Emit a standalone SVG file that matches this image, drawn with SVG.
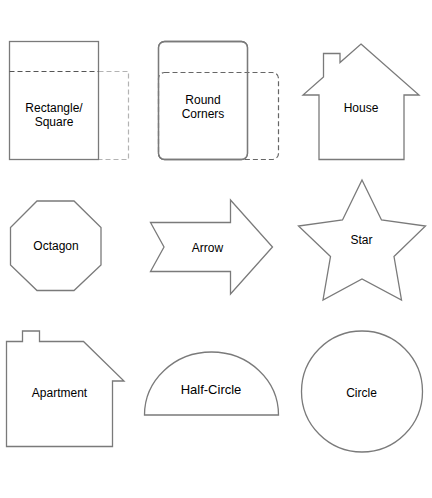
<svg xmlns="http://www.w3.org/2000/svg" width="432" height="498" viewBox="0 0 432 498">
<style>
.s{fill:#fff;stroke:#7a7a7a;stroke-width:1.3;stroke-linejoin:miter}
.o{fill:none;stroke:#7a7a7a;stroke-width:1.3}
.d{fill:none;stroke:#555;stroke-width:1.2;stroke-dasharray:5,3}
.dl{fill:none;stroke:#b3b3b3;stroke-width:1.2;stroke-dasharray:5,3}
text{font-family:"Liberation Sans",Arial,sans-serif;font-size:12px;fill:#000;text-anchor:middle}
</style>
<rect width="432" height="498" fill="#fff"/>
<g id="rectangle">
<path class="dl" d="M98.5 71.5H128.5V159.5H98.5"/>
<rect class="s" x="9.5" y="41.5" width="89" height="118"/>
<path class="d" d="M9.5 71.5H98.5"/>
<text x="54" y="112">Rectangle/</text>
<text x="54" y="125.5">Square</text>
</g>
<g id="round">
<rect class="s" x="158.5" y="41.5" width="89" height="118" rx="6"/>
<rect class="d" x="158.5" y="72.5" width="120" height="87" rx="6" style="stroke:#666"/>
<rect class="o" x="158.5" y="41.5" width="89" height="118" rx="6"/>
<text x="203" y="104">Round</text>
<text x="203" y="117.5">Corners</text>
</g>
<g id="house">
<path class="s" d="M361 44L419 95H404V159.5H319V95H303L323.5 77V53.5H340V62.5Z"/>
<text x="361" y="111.5">House</text>
</g>
<g id="octagon">
<path class="s" d="M37 201H74L101 227.5V265L74 290.5H37L10.5 265V227.5Z"/>
<text x="56" y="250">Octagon</text>
</g>
<g id="arrow">
<path class="s" d="M150.5 222.5H230.5V200L272.5 247L230.5 294V271.5H150.5L164 247Z"/>
<text x="207.5" y="252">Arrow</text>
</g>
<g id="star">
<path class="s" d="M362 180L381.5 220L425.5 226L394 256.5L401.5 300L362 279L323 300L330.5 256.5L298.5 226L342.5 220Z"/>
<text x="361.5" y="244">Star</text>
</g>
<g id="apartment">
<path class="s" d="M6.5 341.5H22.5V331H39.5V341.5H83.5L124 381H112.5V446.5H6.5Z"/>
<text x="59.5" y="396.5">Apartment</text>
</g>
<g id="halfcircle">
<path class="s" d="M144.5 415A67 63 0 0 1 278.5 415Z"/>
<text x="211" y="394" style="font-size:13px">Half-Circle</text>
</g>
<g id="circle">
<circle class="s" cx="362" cy="391.5" r="60.5"/>
<text x="361.5" y="396.5">Circle</text>
</g>
<g id="connectors"/>
</svg>
